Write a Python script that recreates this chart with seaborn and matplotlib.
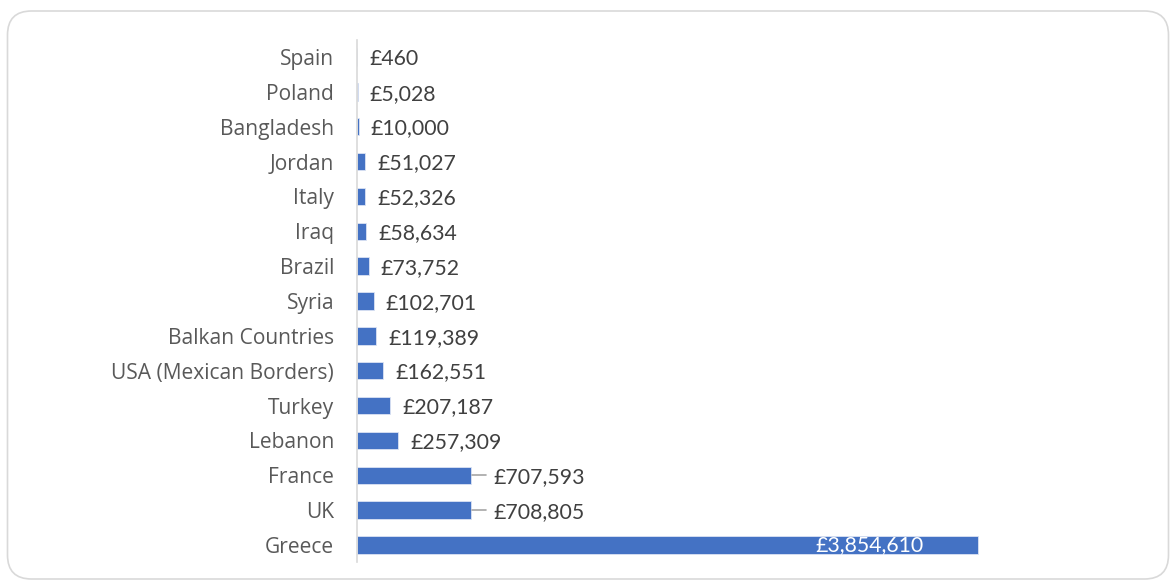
import matplotlib
matplotlib.use('Agg')
import matplotlib.pyplot as plt
import matplotlib.transforms as mtransforms
from matplotlib.patches import FancyBboxPatch
import pandas as pd
import seaborn as sns

# ------------------------
# Data (top to bottom)
# ------------------------
countries = ['Spain', 'Poland', 'Bangladesh', 'Jordan', 'Italy', 'Iraq', 'Brazil',
             'Syria', 'Balkan Countries', 'USA (Mexican Borders)', 'Turkey',
             'Lebanon', 'France', 'UK', 'Greece']
amounts = [460, 5028, 10000, 51027, 52326, 58634, 73752, 102701, 119389,
           162551, 207187, 257309, 707593, 708805, 3854610]
callout_countries = ['France', 'UK']
inside_countries = ['Greece']

df = pd.DataFrame({'country': countries, 'amount': amounts})

# ------------------------
# Style
# ------------------------
sns.set_style('white')
plt.rcParams['font.family'] = ['Open Sans', 'DejaVu Sans']
val_font = ['Lato', 'DejaVu Sans']
val_size = 15.3

W, H = 1171, 581
fig = plt.figure(figsize=(W / 100, H / 100), dpi=100)
ax_left, ax_right, ax_top, ax_bottom = 357, 1150, 39.6, 562.4
ax = fig.add_axes([ax_left / W, (H - ax_bottom) / H,
                   (ax_right - ax_left) / W, (ax_bottom - ax_top) / H])

sns.barplot(data=df, y='country', x='amount', orient='h', color='#4472C4',
            saturation=1, width=0.5, edgecolor='#dbe3f3', linewidth=0.6, ax=ax)

# Greece bar ends at ~978 px
xmax = max(amounts) * (ax_right - ax_left) / (978 - ax_left)
ax.set_xlim(0, xmax)
ax.set_ylim(len(countries) - 0.5, -0.5)

for s in ['top', 'right', 'bottom']:
    ax.spines[s].set_visible(False)
ax.spines['left'].set_color('#d9d9d9')
ax.spines['left'].set_linewidth(1.2)
ax.set_xticks([])
ax.set_xlabel('')
ax.set_ylabel('')
ax.tick_params(axis='y', length=0, pad=16.5, labelsize=15.1, labelcolor='#595959')

# ------------------------
# Data labels
# ------------------------
px = xmax / (ax_right - ax_left)  # data units per pixel
for i, (c, v) in enumerate(zip(countries, amounts)):
    txt = f'£{v:,}'
    if c in inside_countries:
        ax.text(v - 54 * px, i, txt, ha='right', va='center', color='white',
                fontsize=val_size, family=val_font)
    elif c in callout_countries:
        ax.plot([v + 1 * px, v + 15 * px], [i, i], color='#a6a6a6', lw=1.2)
        ax.text(v + 22 * px, i + 0.05, txt, ha='left', va='center', color='#404040',
                fontsize=val_size, family=val_font)
    else:
        ax.text(v + 12 * px, i + 0.05, txt, ha='left', va='center', color='#404040',
                fontsize=val_size, family=val_font)

# rounded chart frame
frame = FancyBboxPatch((7.5, 2), 1161, 568,
                       boxstyle='round,pad=0,rounding_size=24',
                       transform=mtransforms.IdentityTransform(),
                       facecolor='none', edgecolor='#d9d9d9', linewidth=1.2)
fig.patches.append(frame)

fig.savefig('out.png', dpi=100, facecolor='white')
